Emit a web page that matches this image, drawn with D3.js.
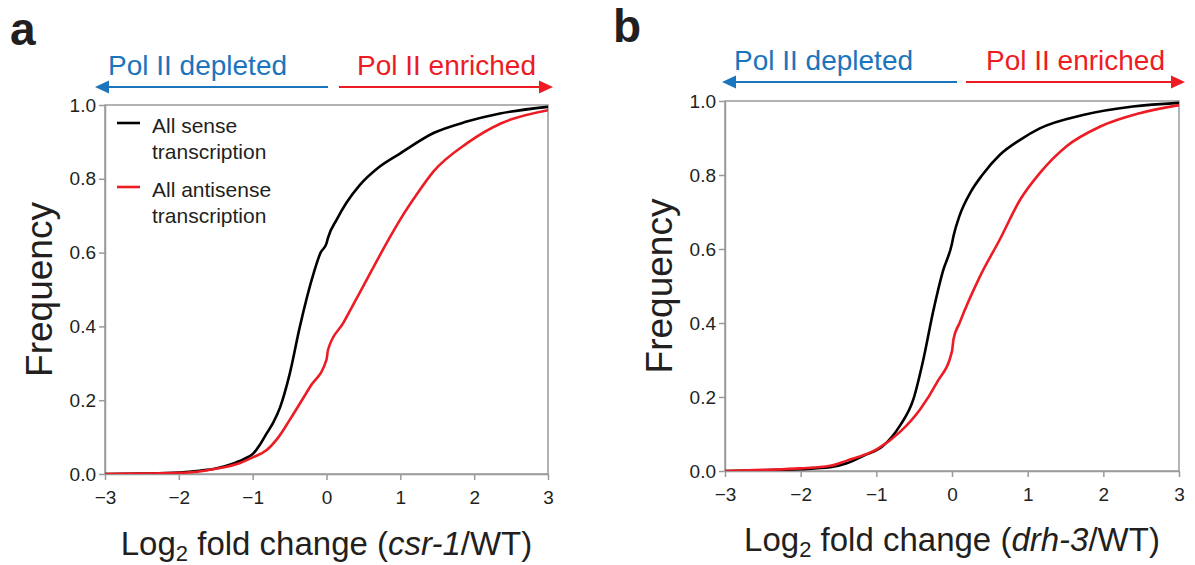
<!DOCTYPE html>
<html>
<head>
<meta charset="utf-8">
<script src="https://cdn.jsdelivr.net/npm/d3@7"></script>
<style>
  html, body { margin: 0; padding: 0; background: #fff; }
  svg { display: block; font-family: "Liberation Sans", Arial, Helvetica, sans-serif; }
</style>
</head>
<body>
<svg id="chart" width="1195" height="565"></svg>
<script>
// ---------- DATA ----------
const xTicks = [-3, -2, -1, 0, 1, 2, 3];
const yTicks = [0, 0.2, 0.4, 0.6, 0.8, 1.0];
const seriesNames = ["All sense transcription", "All antisense transcription"];

// Panel a: csr-1/WT
const aSenseX = [-3, -2.5, -2, -1.72, -1.5, -1.27, -1.1, -0.99, -0.9, -0.81, -0.72, -0.63, -0.5, -0.36, -0.18, -0.08, 0, 0.02, 0.14, 0.27, 0.45, 0.7, 1.0, 1.45, 1.9, 2.35, 3];
const aSenseF = [0.0, 0.001, 0.004, 0.009, 0.015, 0.028, 0.042, 0.056, 0.08, 0.11, 0.14, 0.18, 0.27, 0.40, 0.54, 0.60, 0.625, 0.64, 0.69, 0.735, 0.783, 0.83, 0.869, 0.924, 0.955, 0.977, 0.995];
const aAntiX = [-3, -2.5, -2, -1.72, -1.5, -1.17, -1.0, -0.81, -0.65, -0.5, -0.22, 0, 0.02, 0.23, 0.5, 0.84, 1.0, 1.23, 1.45, 1.9, 2.36, 3];
const aAntiF = [0.0, 0.001, 0.003, 0.007, 0.014, 0.03, 0.045, 0.065, 0.1, 0.146, 0.237, 0.31, 0.336, 0.41, 0.51, 0.635, 0.69, 0.76, 0.82, 0.896, 0.95, 0.986];

// Panel b: drh-3/WT
const bSenseX = [-3, -2.5, -2, -1.61, -1.4, -1.17, -0.91, -0.69, -0.51, -0.38, -0.25, -0.12, 0, 0.02, 0.1, 0.25, 0.4, 0.63, 0.9, 1.16, 1.73, 2.39, 3];
const bSenseF = [0.0, 0.002, 0.005, 0.01, 0.02, 0.041, 0.068, 0.122, 0.194, 0.30, 0.43, 0.54, 0.615, 0.635, 0.69, 0.755, 0.80, 0.854, 0.895, 0.926, 0.962, 0.985, 0.995];
const bAntiX = [-3, -2.5, -2, -1.61, -1.39, -0.99, -0.69, -0.42, -0.2, 0, 0.02, 0.1, 0.37, 0.63, 0.9, 1.16, 1.51, 1.96, 2.48, 3];
const bAntiF = [0.0, 0.003, 0.007, 0.014, 0.028, 0.059, 0.105, 0.167, 0.239, 0.324, 0.356, 0.40, 0.526, 0.625, 0.733, 0.805, 0.877, 0.931, 0.967, 0.989];

const panelLetters = ["a", "b"];
const genes = ["csr-1", "drh-3"];
const arrowLabels = ["Pol II depleted", "Pol II enriched"];

// ---------- STYLE ----------
const BLACK = "#000000", RED = "#ed1c24", BLUE = "#1b75bc", AXIS = "#9a9a9a", TEXT = "#231f20";

const svg = d3.select("#chart");

function zip(xs, fs) { return xs.map((x, i) => ({ x, f: fs[i] })); }

const panels = [
  { letter: panelLetters[0], gene: genes[0], left: 105, right: 548, top: 105, bottom: 474,
    sense: zip(aSenseX, aSenseF), anti: zip(aAntiX, aAntiF), legend: true,
    letterX: 10, letterY: 45, titleY: 555,
    arrowY: 87, blue: [95, 328], red: [339, 553], textY: 75, depX: 108, enrX: 357 },
  { letter: panelLetters[1], gene: genes[1], left: 725, right: 1179, top: 101, bottom: 471,
    sense: zip(bSenseX, bSenseF), anti: zip(bAntiX, bAntiF), legend: false,
    letterX: 613, letterY: 42, titleY: 551,
    arrowY: 82, blue: [722, 957], red: [966, 1185], textY: 70, depX: 734, enrX: 986 }
];

function arrow(g, x1, x2, y, color) {
  // x2 is the tip
  const dir = x2 > x1 ? 1 : -1;
  const head = 14, hw = 6.5;
  g.append("line").attr("x1", x1).attr("x2", x2 - dir * head + dir * 1).attr("y1", y).attr("y2", y)
    .attr("stroke", color).attr("stroke-width", 2);
  g.append("path")
    .attr("d", `M${x2},${y} L${x2 - dir * head},${y - hw} L${x2 - dir * head},${y + hw} Z`)
    .attr("fill", color);
}

panels.forEach(p => {
  const g = svg.append("g");
  const x = d3.scaleLinear().domain([-3, 3]).range([p.left, p.right]);
  const y = d3.scaleLinear().domain([0, 1]).range([p.bottom, p.top]);

  // panel letter
  g.append("text").attr("x", p.letterX).attr("y", p.letterY)
    .attr("font-size", 46).attr("font-weight", "bold").attr("fill", TEXT).text(p.letter);

  // arrows + labels
  arrow(g, p.blue[1], p.blue[0], p.arrowY, BLUE);
  arrow(g, p.red[0], p.red[1], p.arrowY, RED);
  g.append("text").attr("x", p.depX).attr("y", p.textY).attr("font-size", 28)
    .attr("fill", BLUE).text(arrowLabels[0]);
  g.append("text").attr("x", p.enrX).attr("y", p.textY).attr("font-size", 28)
    .attr("fill", RED).text(arrowLabels[1]);

  // frame
  g.append("rect").attr("x", p.left).attr("y", p.top)
    .attr("width", p.right - p.left).attr("height", p.bottom - p.top)
    .attr("fill", "none").attr("stroke", AXIS).attr("stroke-width", 1.5);

  // axes
  const xAxis = d3.axisBottom(x).tickValues(xTicks).tickFormat(d3.format("d"))
    .tickSize(6).tickSizeOuter(0).tickPadding(11);
  const yAxis = d3.axisLeft(y).tickValues(yTicks).tickFormat(d3.format(".1f"))
    .tickSize(6).tickSizeOuter(0).tickPadding(3);
  const gx = g.append("g").attr("transform", `translate(0,${p.bottom})`).call(xAxis);
  const gy = g.append("g").attr("transform", `translate(${p.left},0)`).call(yAxis);
  [gx, gy].forEach(ax => {
    ax.select(".domain").attr("stroke", AXIS).attr("stroke-width", 1.5);
    ax.selectAll(".tick line").attr("stroke", AXIS).attr("stroke-width", 1.5);
    ax.selectAll(".tick text").attr("font-size", 19).attr("fill", TEXT)
      .attr("font-family", "'Liberation Sans', Arial, sans-serif");
  });

  // curves
  const line = d3.line().x(d => x(d.x)).y(d => y(d.f)).curve(d3.curveMonotoneX);
  const clipId = "clip" + p.letter;
  g.append("clipPath").attr("id", clipId).append("rect")
    .attr("x", p.left).attr("y", p.top - 3).attr("width", p.right - p.left).attr("height", p.bottom - p.top + 3);
  const cg = g.append("g").attr("clip-path", `url(#${clipId})`);
  cg.append("path").datum(p.sense).attr("d", line).attr("fill", "none")
    .attr("stroke", BLACK).attr("stroke-width", 2.6).attr("stroke-linejoin", "round");
  cg.append("path").datum(p.anti).attr("d", line).attr("fill", "none")
    .attr("stroke", RED).attr("stroke-width", 2.6).attr("stroke-linejoin", "round");

  // axis titles
  const cx = (p.left + p.right) / 2;
  const xt = g.append("text").attr("x", cx).attr("y", p.titleY)
    .attr("text-anchor", "middle").attr("font-size", 33).attr("fill", TEXT);
  xt.append("tspan").text("Log");
  xt.append("tspan").attr("font-size", 22).attr("dy", 6).text("2");
  xt.append("tspan").attr("dy", -6).text(" fold change (");
  xt.append("tspan").attr("font-style", "italic").text(p.gene);
  xt.append("tspan").text("/WT)");

  g.append("text")
    .attr("transform", `translate(${p.left - 53},${(p.top + p.bottom) / 2}) rotate(-90)`)
    .attr("text-anchor", "middle").attr("font-size", 37).attr("fill", TEXT).text("Frequency");

  // legend
  if (p.legend) {
    const lg = g.append("g");
    const items = [
      { color: BLACK, lines: ["All sense", "transcription"], y: 123 },
      { color: RED, lines: ["All antisense", "transcription"], y: 187 }
    ];
    items.forEach((it, i) => {
      lg.append("line").attr("x1", 117).attr("x2", 140).attr("y1", it.y).attr("y2", it.y)
        .attr("stroke", it.color).attr("stroke-width", 2.6);
      it.lines.forEach((t, j) => {
        lg.append("text").attr("x", 152).attr("y", it.y + 10 + j * 25.5)
          .attr("font-size", 21).attr("fill", TEXT).text(t);
      });
    });
  }
});
</script>
</body>
</html>
